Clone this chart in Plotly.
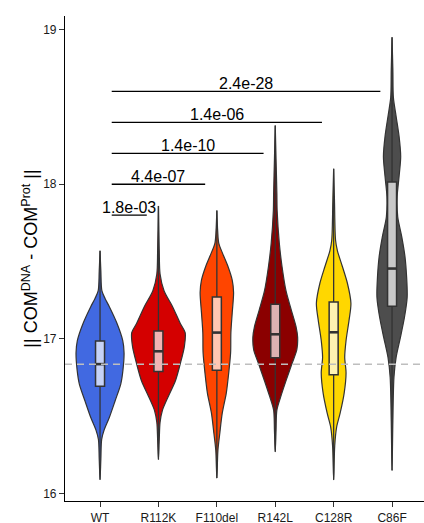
import plotly.graph_objects as go

# Groups and colours
groups = ["WT", "R112K", "F110del", "R142L", "C128R", "C86F"]
violin_colors = ["#4169E1", "#D40000", "#FF4500", "#8B0000", "#FFD700", "#4D4D4D"]
box_colors = ["#C6D2F6", "#F2B3B3", "#FFC7B2", "#DCB2B2", "#FFF3B2", "#C9C9C9"]

# Kernel density profiles (distance value, scaled density)
wt_y = [16.09, 16.22, 16.35, 16.41, 16.49, 16.60, 16.71, 16.80, 16.91, 16.99, 17.10, 17.21, 17.26, 17.31, 17.44, 17.57]
wt_d = [0.0, 0.03, 0.06, 0.15, 0.34, 0.56, 0.77, 0.85, 0.89, 0.84, 0.63, 0.34, 0.19, 0.07, 0.03, 0.0]

r112k_y = [16.22, 16.35, 16.46, 16.54, 16.63, 16.73, 16.84, 16.95, 17.04, 17.10, 17.21, 17.31, 17.42, 17.57, 17.86]
r112k_d = [0.0, 0.03, 0.06, 0.15, 0.37, 0.63, 0.81, 0.96, 0.99, 0.81, 0.52, 0.21, 0.06, 0.03, 0.0]

f110del_y = [16.10, 16.28, 16.39, 16.52, 16.65, 16.78, 16.91, 17.04, 17.17, 17.30, 17.38, 17.47, 17.55, 17.62, 17.70, 17.83]
f110del_d = [0.0, 0.04, 0.11, 0.20, 0.35, 0.44, 0.51, 0.52, 0.57, 0.62, 0.57, 0.41, 0.22, 0.07, 0.03, 0.0]

r142l_y = [16.27, 16.41, 16.54, 16.63, 16.73, 16.84, 16.93, 17.01, 17.08, 17.19, 17.31, 17.47, 17.62, 17.83, 17.94, 18.16, 18.38]
r142l_d = [0.0, 0.03, 0.06, 0.21, 0.40, 0.62, 0.80, 0.83, 0.77, 0.59, 0.40, 0.25, 0.15, 0.07, 0.06, 0.03, 0.0]

c128r_y = [16.09, 16.31, 16.43, 16.52, 16.65, 16.78, 16.88, 16.99, 17.12, 17.23, 17.36, 17.47, 17.57, 17.64, 17.90, 18.10]
c128r_d = [0.0, 0.04, 0.11, 0.24, 0.39, 0.46, 0.41, 0.46, 0.57, 0.64, 0.51, 0.32, 0.14, 0.07, 0.03, 0.0]

c86f_y = [16.15, 16.47, 16.75, 16.88, 17.01, 17.14, 17.27, 17.40, 17.53, 17.66, 17.79, 17.92, 18.05, 18.18, 18.31, 18.44, 18.56, 18.74, 18.95]
c86f_d = [0.0, 0.03, 0.07, 0.15, 0.31, 0.46, 0.56, 0.54, 0.48, 0.36, 0.21, 0.19, 0.26, 0.32, 0.26, 0.15, 0.05, 0.03, 0.0]

profiles_y = [wt_y, r112k_y, f110del_y, r142l_y, c128r_y, c86f_y]
profiles_d = [wt_d, r112k_d, f110del_d, r142l_d, c128r_d, c86f_d]

# Box statistics
q1 = [16.694, 16.789, 16.797, 16.879, 16.769, 17.211]
median = [16.837, 16.920, 17.041, 17.030, 17.043, 17.455]
q3 = [16.986, 17.051, 17.271, 17.224, 17.239, 18.015]

# Pairwise tests against WT
sig_groups = [1, 2, 3, 4, 5]
sig_labels = ["1.8e-03", "4.4e-07", "1.4e-10", "1.4e-06", "2.4e-28"]
sig_levels = [17.8, 18.0, 18.2, 18.4, 18.6]

DENS_SCALE = 0.462   # half-width of the widest violin, in category units
BOX_HALF = 0.077
OUTLINE = "#333333"

fig = go.Figure()

for i, (ys, ds) in enumerate(zip(profiles_y, profiles_d)):
    right = [i + d * DENS_SCALE for d in ds]
    left = [i - d * DENS_SCALE for d in ds]
    xs = right + left[::-1]
    yy = ys + ys[::-1]
    fig.add_trace(go.Scatter(
        x=xs, y=yy, mode="lines", fill="toself",
        fillcolor=violin_colors[i],
        line=dict(color=OUTLINE, width=1.2, shape="spline", smoothing=0.8),
        hoverinfo="skip", showlegend=False,
    ))
    # whisker line through the violin
    fig.add_trace(go.Scatter(
        x=[i, i], y=[ys[0], ys[-1]], mode="lines",
        line=dict(color=OUTLINE, width=1.3),
        hoverinfo="skip", showlegend=False,
    ))

shapes = []
for i in range(len(groups)):
    shapes.append(dict(type="rect", xref="x", yref="y",
                       x0=i - BOX_HALF, x1=i + BOX_HALF, y0=q1[i], y1=q3[i],
                       fillcolor=box_colors[i], line=dict(color=OUTLINE, width=1.5),
                       layer="above"))
    shapes.append(dict(type="line", xref="x", yref="y",
                       x0=i - BOX_HALF, x1=i + BOX_HALF, y0=median[i], y1=median[i],
                       line=dict(color=OUTLINE, width=2.6), layer="above"))

# reference line at the WT median
shapes.append(dict(type="line", xref="paper", yref="y", x0=0, x1=1,
                   y0=median[0], y1=median[0],
                   line=dict(color="#BEBEBE", width=1.5, dash="7px,5px"), layer="above"))

annotations = []
for g, lab, lev in zip(sig_groups, sig_labels, sig_levels):
    shapes.append(dict(type="line", xref="x", yref="y", x0=0.2, x1=g - 0.2,
                       y0=lev, y1=lev, line=dict(color="black", width=1.3)))
    annotations.append(dict(x=g / 2, y=lev, xref="x", yref="y", text=lab,
                            showarrow=False, yanchor="bottom", yshift=-3,
                            font=dict(size=16, color="black")))

fig.update_layout(
    width=424, height=523,
    margin=dict(l=65, r=0, t=16, b=22),
    plot_bgcolor="white", paper_bgcolor="white",
    font=dict(family="Liberation Sans, Arial, sans-serif"),
    shapes=shapes, annotations=annotations,
    xaxis=dict(
        range=[-0.6, 5.547], tickmode="array",
        tickvals=list(range(len(groups))), ticktext=groups,
        showline=True, linecolor="black", linewidth=1.2,
        ticks="outside", ticklen=5, tickcolor="#333333", tickwidth=1.2,
        tickfont=dict(size=12, color="#1a1a1a"),
        showgrid=False, zeroline=False, automargin=False,
    ),
    yaxis=dict(
        range=[15.952, 19.088], tickvals=[16, 17, 18, 19],
        showline=True, linecolor="black", linewidth=1.2,
        ticks="outside", ticklen=5, tickcolor="#333333", tickwidth=1.2,
        tickfont=dict(size=12, color="#1a1a1a"),
        showgrid=False, zeroline=False, automargin=False,
        title=dict(text="|| COM<sup>DNA</sup> - COM<sup>Prot</sup> ||",
                   font=dict(size=18, color="black"), standoff=0),
    ),
)

fig.write_html("out.html")
